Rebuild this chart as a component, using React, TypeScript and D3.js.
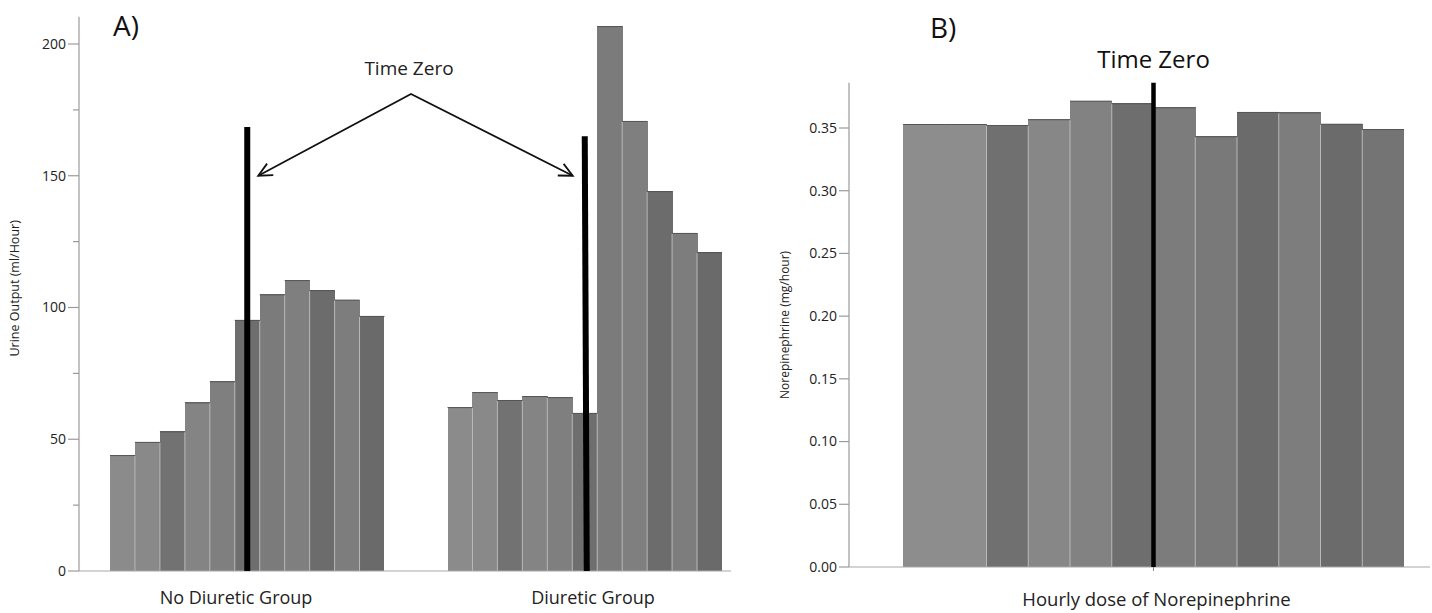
import React from "react";
import * as d3 from "d3";

// ---------- Panel A data ----------
const groups = ["No Diuretic Group", "Diuretic Group"];
const noDiureticUrine = [44, 49, 53, 64, 72, 95.3, 105, 110.4, 106.6, 103, 96.8];
const diureticUrine = [62.2, 67.9, 64.9, 66.4, 66, 60, 206.8, 170.8, 144.2, 128.3, 121];
const urineTicks = [0, 50, 100, 150, 200];
const urineMinorTicks = [25, 75, 125, 175];
const shadesA = ["#8b8b8b", "#898989", "#727272", "#848484", "#7f7f7f", "#6e6e6e", "#7b7b7b", "#7f7f7f", "#6c6c6c", "#7d7d7d", "#6a6a6a"];
const timeZeroHourA = 5; // index of the hour bar the time-zero line sits on
const timeZeroTopA = [168.5, 165]; // value at top of the black lines

// ---------- Panel B data ----------
const norepiDose = [0.3532, 0.3532, 0.3524, 0.357, 0.3718, 0.3697, 0.3665, 0.3434, 0.3628, 0.3625, 0.3534, 0.3492];
const shadesB = ["#8d8d8d", "#8d8d8d", "#707070", "#878787", "#828282", "#6e6e6e", "#7c7c7c", "#797979", "#6b6b6b", "#7d7d7d", "#6b6b6b", "#747474"];
const norepiTicks = [0, 0.05, 0.1, 0.15, 0.2, 0.25, 0.3, 0.35];
const timeZeroBoundaryB = 6; // time zero sits between bar 6 and bar 7

const FONT = "'Open Sans', 'Noto Sans', sans-serif";

function arrowHead(x1: number, y1: number, x2: number, y2: number, len = 15, ang = 0.45) {
  const a = Math.atan2(y2 - y1, x2 - x1);
  const p1 = [x2 - len * Math.cos(a - ang), y2 - len * Math.sin(a - ang)];
  const p2 = [x2 - len * Math.cos(a + ang), y2 - len * Math.sin(a + ang)];
  return `M${p1[0]},${p1[1]}L${x2},${y2}L${p2[0]},${p2[1]}`;
}

function Bars({ values, shades, x, y, base }: any) {
  const bw = x.bandwidth();
  return (
    <g>
      {values.map((v: number, i: number) => (
        <rect key={"r" + i} x={x(i)} y={y(v)} width={bw + (i < values.length - 1 ? 0.6 : 0)} height={base - y(v)} fill={shades[i]} shapeRendering="crispEdges" />
      ))}
      {values.map((v: number, i: number) => (
        <line key={"t" + i} x1={x(i)} x2={x(i) + bw} y1={y(v) + 0.5} y2={y(v) + 0.5} stroke="#555" strokeWidth={1} />
      ))}
      {values.map((v: number, i: number) => {
        if (i === 0) return null;
        if (values[i - 1] === v && shades[i - 1] === shades[i]) return null;
        const top = Math.max(y(v), y(values[i - 1]));
        return <line key={"s" + i} x1={x(i)} x2={x(i)} y1={top + 1} y2={base} stroke="#b9b9b9" strokeWidth={1} />;
      })}
    </g>
  );
}

export default function App() {
  // ----- Panel A scales -----
  const axisAX = 79;
  const baseA = 571;
  const yA = d3.scaleLinear().domain([0, 200]).range([baseA, 44]);
  const gx = d3.scaleBand<string>().domain(groups).range([110, 722]).paddingInner(0.1867).paddingOuter(0);
  const hx = d3.scaleBand<number>().domain(d3.range(11)).range([0, gx.bandwidth()]).padding(0);
  const labelX = d3.scalePoint<string>().domain(groups).range([236, 593]);
  const seriesA = [noDiureticUrine, diureticUrine];

  // time zero lines
  const tzA = groups.map((g, gi) => ({
    x: (gx(g) as number) + (hx(timeZeroHourA) as number) + hx.bandwidth() / 2,
    top: yA(timeZeroTopA[gi]),
  }));
  const vertex = { x: 411, y: yA(181) };
  const tipL = { x: tzA[0].x + 11, y: yA(150) };
  const tipR = { x: tzA[1].x - 12, y: yA(150) };

  // ----- Panel B scales -----
  const axisBX = 849;
  const baseB = 567;
  const yB = d3.scaleLinear().domain([0, 0.35]).range([baseB, 128]);
  const xB = d3.scaleBand<number>().domain(d3.range(norepiDose.length)).range([903, 1404]).padding(0);
  const tzBx = (xB(timeZeroBoundaryB) as number);

  return (
    <svg width={1432} height={613} style={{ position: "absolute", left: 0, top: 0, background: "#fff" }} fontFamily={FONT}>
      <rect width={1432} height={613} fill="#fff" />
      {/* ---------------- Panel A ---------------- */}
      <text x={113} y={36} fontSize={28} fill="#111">A)</text>
      {/* bars */}
      {groups.map((g, gi) => {
        const off = gx(g) as number;
        const xs: any = (i: number) => off + (hx(i) as number);
        xs.bandwidth = () => hx.bandwidth();
        return <Bars key={g} values={seriesA[gi]} shades={shadesA} x={xs} y={yA} base={baseA} />;
      })}
      {/* axes */}
      <line x1={axisAX} x2={axisAX} y1={yA(210.3)} y2={baseA} stroke="#9a9a9a" strokeWidth={1.2} />
      <line x1={axisAX} x2={731} y1={baseA} y2={baseA} stroke="#a8a8a8" strokeWidth={1.2} />
      {urineTicks.map((t) => (
        <g key={t}>
          <line x1={axisAX - 11} x2={axisAX} y1={yA(t)} y2={yA(t)} stroke="#9a9a9a" strokeWidth={1.2} />
          <text x={axisAX - 13} y={yA(t)} dy="0.35em" textAnchor="end" fontSize={14} fill="#222">{t}</text>
        </g>
      ))}
      {urineMinorTicks.map((t) => (
        <line key={t} x1={axisAX - 6} x2={axisAX} y1={yA(t)} y2={yA(t)} stroke="#9a9a9a" strokeWidth={1.2} />
      ))}
      <text transform={`translate(19,${(yA(210) + baseA) / 2 - 6}) rotate(-90)`} textAnchor="middle" fontSize={12.5} fill="#222">
        Urine Output (ml/Hour)
      </text>
      {groups.map((g) => (
        <text key={g} x={labelX(g)} y={604} textAnchor="middle" fontSize={18} fill="#222">{g}</text>
      ))}
      {/* time zero lines */}
      {tzA.map((t, i) => (
        <line key={i} x1={t.x} x2={t.x + (i === 1 ? 2 : 0)} y1={t.top} y2={baseA} stroke="#000" strokeWidth={6} />
      ))}
      {/* annotation */}
      <text x={vertex.x - 2} y={75} textAnchor="middle" fontSize={19} fill="#222">Time Zero</text>
      <path d={`M${tipL.x},${tipL.y}L${vertex.x},${vertex.y}L${tipR.x},${tipR.y}`} fill="none" stroke="#111" strokeWidth={1.8} />
      <path d={arrowHead(vertex.x, vertex.y, tipL.x, tipL.y)} fill="none" stroke="#111" strokeWidth={1.8} />
      <path d={arrowHead(vertex.x, vertex.y, tipR.x, tipR.y)} fill="none" stroke="#111" strokeWidth={1.8} />

      {/* ---------------- Panel B ---------------- */}
      <text x={930} y={38} fontSize={28} fill="#111">B)</text>
      <Bars values={norepiDose} shades={shadesB} x={xB} y={yB} base={baseB} />
      <line x1={axisBX} x2={axisBX} y1={yB(0.386)} y2={baseB} stroke="#9a9a9a" strokeWidth={1.2} />
      <line x1={axisBX} x2={1430} y1={baseB} y2={baseB} stroke="#a8a8a8" strokeWidth={1.2} />
      {norepiTicks.map((t) => (
        <g key={t}>
          <line x1={axisBX - 10} x2={axisBX} y1={yB(t)} y2={yB(t)} stroke="#9a9a9a" strokeWidth={1.2} />
          <text x={axisBX - 12} y={yB(t)} dy="0.35em" textAnchor="end" fontSize={14} fill="#222">{d3.format(".2f")(t)}</text>
        </g>
      ))}
      <text transform={`translate(789,${(yB(0.386) + baseB) / 2}) rotate(-90)`} textAnchor="middle" fontSize={12} fill="#222">
        Norepinephrine (mg/hour)
      </text>
      <line x1={tzBx} x2={tzBx} y1={yB(0.386)} y2={baseB} stroke="#000" strokeWidth={4.5} />
      <line x1={tzBx} x2={tzBx} y1={baseB} y2={baseB + 4} stroke="#888" strokeWidth={1} />
      <text x={tzBx} y={68} textAnchor="middle" fontSize={24} fill="#111">Time Zero</text>
      <text x={(xB.range()[0] + xB.range()[1]) / 2 + 3} y={606} textAnchor="middle" fontSize={18.5} fill="#222">
        Hourly dose of Norepinephrine
      </text>
    </svg>
  );
}
